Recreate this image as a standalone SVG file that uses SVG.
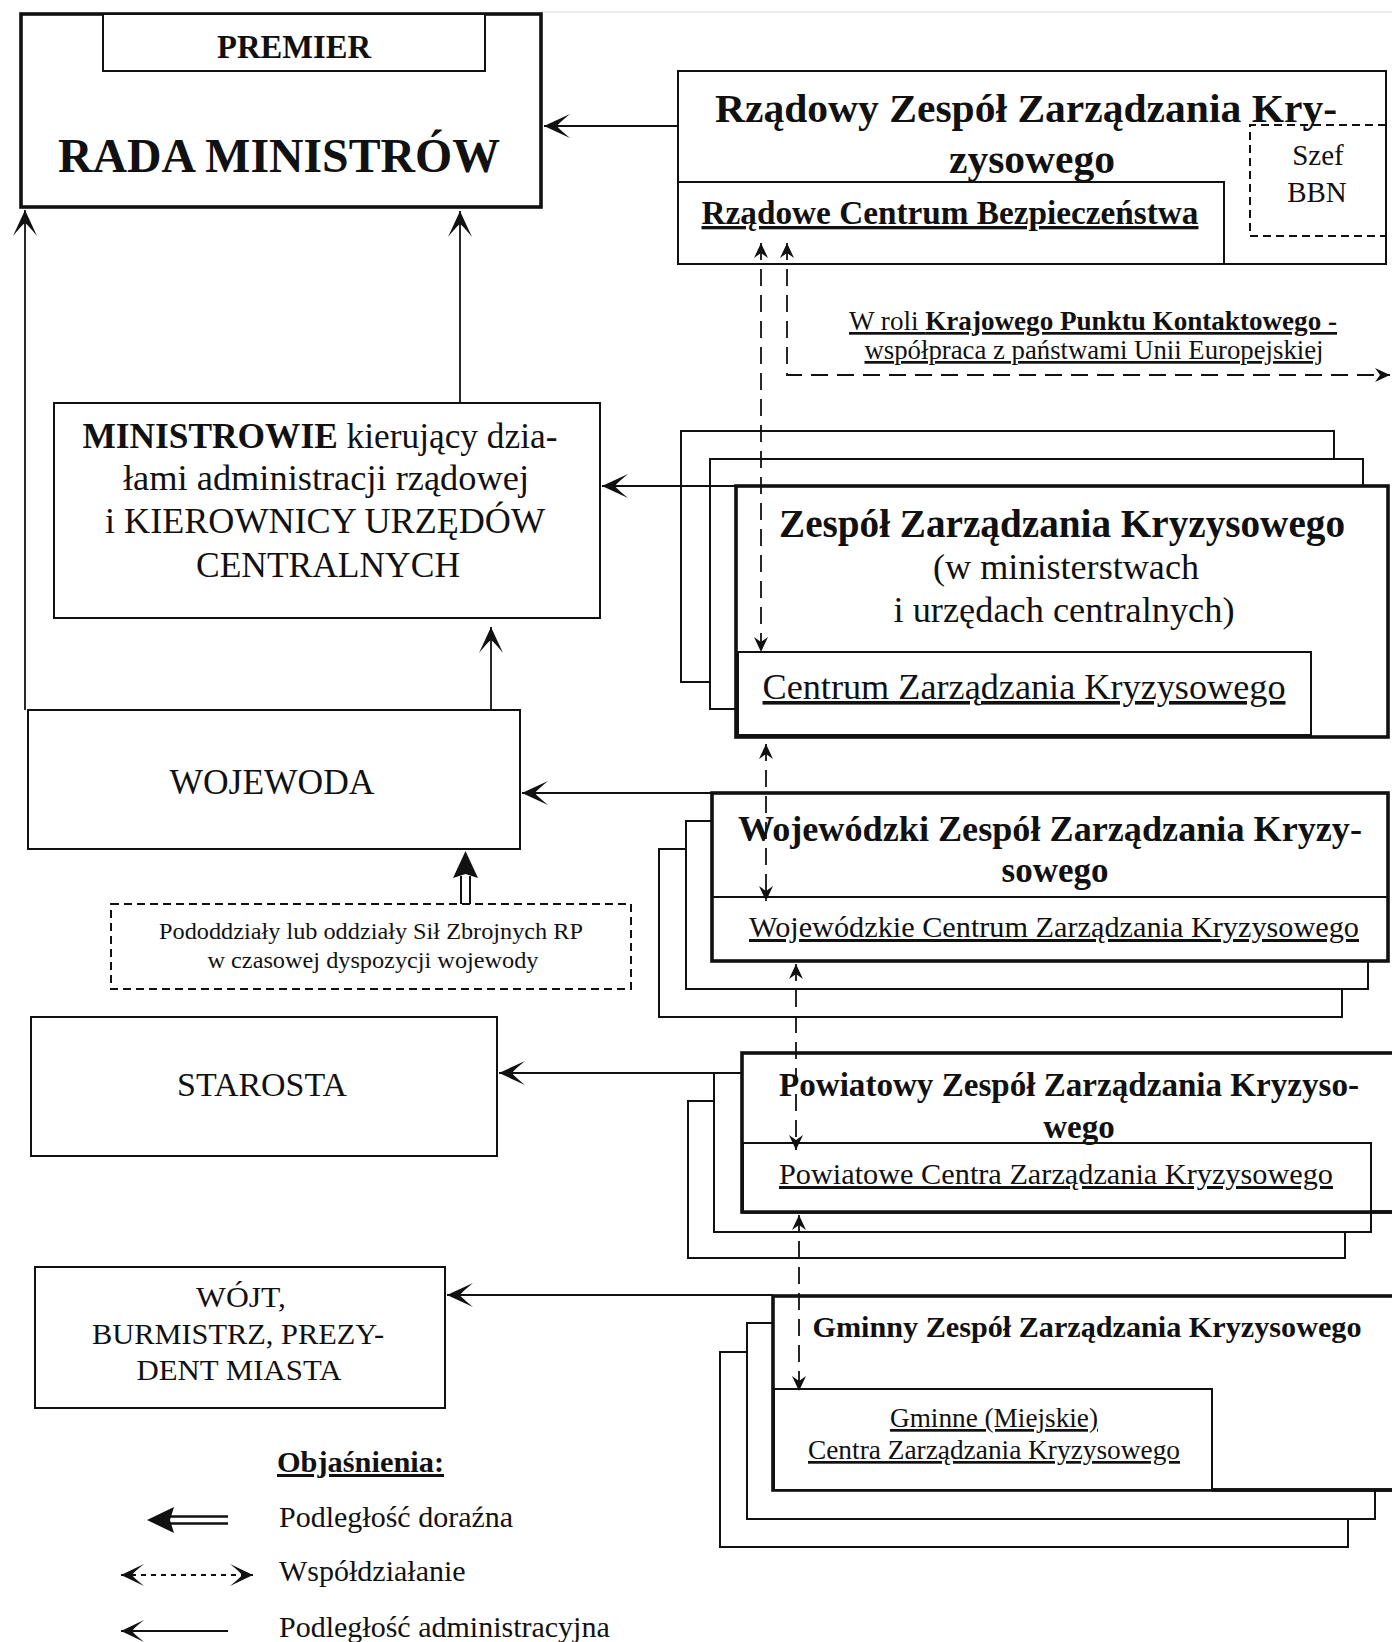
<svg xmlns="http://www.w3.org/2000/svg" width="1392" height="1642" viewBox="0 0 1392 1642">
  <defs>
    <style>
      text { font-family: "Liberation Serif", "Times New Roman", serif; fill: #111; }
      .c { text-anchor: middle; }
      .b { font-weight: bold; }
      .u { text-decoration: underline; }
      .box { fill: #fff; stroke: #111; stroke-width: 2; }
      .thick { fill: #fff; stroke: #111; stroke-width: 3.6; }
      .dbox { fill: none; stroke: #111; stroke-width: 2; stroke-dasharray: 8 5; }
      .ln { fill: none; stroke: #111; stroke-width: 1.8; }
      .dl { fill: none; stroke: #111; stroke-width: 1.8; stroke-dasharray: 17 9; }
      .dleg { fill: none; stroke: #111; stroke-width: 2; stroke-dasharray: 5 5; }
    </style>
    <!-- barbed arrowhead for administrative subordination -->
    <marker id="arr" viewBox="-28 -14 30 28" refX="0" refY="0" markerWidth="30" markerHeight="28" markerUnits="userSpaceOnUse" orient="auto">
      <path d="M0,0 L-26,-12 Q-15,-3 -13,0 Q-15,3 -26,12 Z" fill="#111"/>
    </marker>
    <!-- small head for cooperation (dashed) links -->
    <marker id="arrS" viewBox="-17 -9 19 18" refX="0" refY="0" markerWidth="19" markerHeight="18" markerUnits="userSpaceOnUse" orient="auto-start-reverse">
      <path d="M0,0 L-15,-7 L-10,0 L-15,7 Z" fill="#111"/>
    </marker>
    <!-- medium head used in the key -->
    <marker id="arrM" viewBox="-25 -13 27 26" refX="0" refY="0" markerWidth="27" markerHeight="26" markerUnits="userSpaceOnUse" orient="auto-start-reverse">
      <path d="M0,0 L-23,-11 Q-13,-3 -11,0 Q-13,3 -23,11 Z" fill="#111"/>
    </marker>
  </defs>

  <rect x="0" y="0" width="1392" height="1642" fill="#fff"/>
  <line x1="541" y1="12" x2="1392" y2="12" stroke="#e6e6e6" stroke-width="1.5"/>

  <!-- Council of Ministers -->
  <g id="rada-ministrow">
    <rect x="21" y="14" width="520" height="193" class="thick"/>
    <rect x="103" y="14" width="382" height="57" class="box"/>
    <text x="294" y="58" class="c b" font-size="33" textLength="154" lengthAdjust="spacingAndGlyphs">PREMIER</text>
    <text x="279" y="172" class="c b" font-size="48" textLength="442" lengthAdjust="spacingAndGlyphs">RADA MINISTRÓW</text>
  </g>

  <!-- Government crisis team -->
  <g id="rzadowy-zespol">
    <rect x="678" y="71" width="708" height="193" class="box" stroke-width="3"/>
    <rect x="678" y="182" width="546" height="82" class="box"/>
    <path d="M1386,125 H1250 V236 H1386" class="dbox"/>
    <text x="1026" y="122" class="c b" font-size="41" textLength="622" lengthAdjust="spacingAndGlyphs">Rządowy Zespół Zarządzania Kry-</text>
    <text x="1032" y="173" class="c b" font-size="41" textLength="166" lengthAdjust="spacingAndGlyphs">zysowego</text>
    <text x="1318" y="165" class="c" font-size="29">Szef</text>
    <text x="1317" y="202" class="c" font-size="29">BBN</text>
    <text x="950" y="224" class="c b u" font-size="33" textLength="497" lengthAdjust="spacingAndGlyphs">Rządowe Centrum Bezpieczeństwa</text>
  </g>

  <!-- National contact point note -->
  <g id="punkt-kontaktowy">
    <text x="1093" y="330" class="c u" font-size="27" textLength="488" lengthAdjust="spacingAndGlyphs">W roli <tspan class="b">Krajowego Punktu Kontaktowego -</tspan></text>
    <text x="1094" y="359" class="c u" font-size="27" textLength="459" lengthAdjust="spacingAndGlyphs">współpraca z państwami Unii Europejskiej</text>
  </g>

  <!-- Ministers and heads of central offices -->
  <g id="ministrowie">
    <rect x="54" y="403" width="546" height="215" class="box"/>
    <text x="320" y="448" class="c" font-size="36" textLength="475" lengthAdjust="spacingAndGlyphs"><tspan class="b">MINISTROWIE</tspan> kierujący dzia-</text>
    <text x="326" y="490" class="c" font-size="36" textLength="406" lengthAdjust="spacingAndGlyphs">łami administracji rządowej</text>
    <text x="325" y="533" class="c" font-size="36" textLength="440" lengthAdjust="spacingAndGlyphs">i KIEROWNICY URZĘDÓW</text>
    <text x="328" y="577" class="c" font-size="36" textLength="264" lengthAdjust="spacingAndGlyphs">CENTRALNYCH</text>
  </g>

  <!-- Crisis teams in ministries (stacked) -->
  <g id="zespol-ministerialny">
    <rect x="681" y="431" width="653" height="251" class="box"/>
    <rect x="710" y="459" width="653" height="250" class="box"/>
    <rect x="736" y="486" width="652" height="251" class="thick"/>
    <rect x="738" y="652" width="573" height="83" class="box"/>
    <text x="1062" y="537" class="c b" font-size="39" textLength="566" lengthAdjust="spacingAndGlyphs">Zespół Zarządzania Kryzysowego</text>
    <text x="1066" y="579" class="c" font-size="35" textLength="266" lengthAdjust="spacingAndGlyphs">(w ministerstwach</text>
    <text x="1064" y="622" class="c" font-size="35" textLength="341" lengthAdjust="spacingAndGlyphs">i urzędach centralnych)</text>
    <text x="1024" y="699" class="c u" font-size="36" textLength="523" lengthAdjust="spacingAndGlyphs">Centrum Zarządzania Kryzysowego</text>
  </g>

  <!-- Voivode -->
  <g id="wojewoda">
    <rect x="28" y="710" width="492" height="139" class="box"/>
    <text x="272" y="794" class="c" font-size="35" textLength="205" lengthAdjust="spacingAndGlyphs">WOJEWODA</text>
  </g>

  <!-- Armed forces units at the voivode's disposal -->
  <g id="pododdzialy">
    <rect x="111" y="904" width="520" height="85" class="dbox"/>
    <text x="371" y="939" class="c" font-size="24" textLength="424" lengthAdjust="spacingAndGlyphs">Pododdziały lub oddziały Sił Zbrojnych RP</text>
    <text x="373" y="968" class="c" font-size="24" textLength="331" lengthAdjust="spacingAndGlyphs">w czasowej dyspozycji wojewody</text>
  </g>

  <!-- Voivodeship crisis team (stacked) -->
  <g id="wojewodzki-zespol">
    <rect x="659" y="849" width="683" height="168" class="box"/>
    <rect x="686" y="821" width="682" height="168" class="box"/>
    <rect x="712" y="793" width="676" height="168" class="thick"/>
    <line x1="712" y1="897" x2="1388" y2="897" stroke="#111" stroke-width="2"/>
    <text x="1050" y="841" class="c b" font-size="35" textLength="624" lengthAdjust="spacingAndGlyphs">Wojewódzki Zespół Zarządzania Kryzy-</text>
    <text x="1055" y="882" class="c b" font-size="35">sowego</text>
    <text x="1054" y="937" class="c u" font-size="30" textLength="610" lengthAdjust="spacingAndGlyphs">Wojewódzkie Centrum Zarządzania Kryzysowego</text>
  </g>

  <!-- District head -->
  <g id="starosta">
    <rect x="31" y="1017" width="466" height="139" class="box"/>
    <text x="262" y="1096" class="c" font-size="33" textLength="170" lengthAdjust="spacingAndGlyphs">STAROSTA</text>
  </g>

  <!-- District crisis team (stacked) -->
  <g id="powiatowy-zespol">
    <rect x="688" y="1101" width="657" height="157" class="box"/>
    <rect x="714" y="1073" width="657" height="159" class="box"/>
    <rect x="742" y="1053" width="660" height="159" class="thick"/>
    <rect x="743" y="1143" width="628" height="69" class="box"/>
    <line x1="742" y1="1212" x2="1392" y2="1212" stroke="#111" stroke-width="3.6"/>
    <text x="1069" y="1096" class="c b" font-size="33" textLength="580" lengthAdjust="spacingAndGlyphs">Powiatowy Zespół Zarządzania Kryzyso-</text>
    <text x="1079" y="1138" class="c b" font-size="33">wego</text>
    <text x="1056" y="1184" class="c u" font-size="30" textLength="554" lengthAdjust="spacingAndGlyphs">Powiatowe Centra Zarządzania Kryzysowego</text>
  </g>

  <!-- Commune head / mayor -->
  <g id="wojt">
    <rect x="35" y="1267" width="410" height="141" class="box"/>
    <text x="241" y="1307" class="c" font-size="30" textLength="90" lengthAdjust="spacingAndGlyphs">WÓJT,</text>
    <text x="238" y="1344" class="c" font-size="30" textLength="292" lengthAdjust="spacingAndGlyphs">BURMISTRZ, PREZY-</text>
    <text x="239" y="1380" class="c" font-size="30" textLength="205" lengthAdjust="spacingAndGlyphs">DENT MIASTA</text>
  </g>

  <!-- Commune crisis team (stacked) -->
  <g id="gminny-zespol">
    <rect x="720" y="1352" width="628" height="195" class="box"/>
    <rect x="747" y="1323" width="628" height="196" class="box"/>
    <rect x="773" y="1296" width="629" height="194" class="thick"/>
    <rect x="774" y="1389" width="438" height="101" class="box"/>
    <line x1="1212" y1="1490" x2="1392" y2="1490" stroke="#111" stroke-width="3.6"/>
    <text x="1087" y="1337" class="c b" font-size="30" textLength="549" lengthAdjust="spacingAndGlyphs">Gminny Zespół Zarządzania Kryzysowego</text>
    <text x="994" y="1427" class="c u" font-size="27" textLength="208" lengthAdjust="spacingAndGlyphs">Gminne (Miejskie)</text>
    <text x="994" y="1459" class="c u" font-size="27" textLength="372" lengthAdjust="spacingAndGlyphs">Centra Zarządzania Kryzysowego</text>
  </g>

  <!-- Connectors -->
  <g id="connectors">
    <!-- administrative subordination -->
    <line x1="678" y1="126" x2="544" y2="126" class="ln" marker-end="url(#arr)"/>
    <line x1="25" y1="710" x2="25" y2="210" class="ln" marker-end="url(#arr)"/>
    <line x1="460" y1="403" x2="460" y2="211" class="ln" marker-end="url(#arr)"/>
    <line x1="736" y1="486" x2="602" y2="486" class="ln" marker-end="url(#arr)"/>
    <line x1="491" y1="710" x2="491" y2="627" class="ln" marker-end="url(#arr)"/>
    <line x1="712" y1="793" x2="522" y2="793" class="ln" marker-end="url(#arr)"/>
    <line x1="714" y1="1073" x2="499" y2="1073" class="ln" marker-end="url(#arr)"/>
    <line x1="773" y1="1295" x2="447" y2="1295" class="ln" marker-end="url(#arr)"/>

    <!-- temporary subordination (double shaft) -->
    <line x1="461" y1="876" x2="461" y2="904" stroke="#111" stroke-width="2"/>
    <line x1="470" y1="876" x2="470" y2="904" stroke="#111" stroke-width="2"/>
    <path d="M465.5,851 L478,878 L465.5,874 L453,878 Z" fill="#111"/>

    <!-- cooperation (dashed, double-headed) -->
    <line x1="761" y1="243" x2="761" y2="652" class="dl" marker-start="url(#arrS)" marker-end="url(#arrS)"/>
    <path d="M787,243 V375 H1390" class="dl" marker-start="url(#arrS)" marker-end="url(#arrS)"/>
    <line x1="766" y1="744" x2="766" y2="901" class="dl" marker-start="url(#arrS)" marker-end="url(#arrS)"/>
    <line x1="796" y1="964" x2="796" y2="1150" class="dl" marker-start="url(#arrS)" marker-end="url(#arrS)"/>
    <line x1="799" y1="1215" x2="799" y2="1391" class="dl" marker-start="url(#arrS)" marker-end="url(#arrS)"/>
  </g>

  <!-- Key -->
  <g id="objasnienia">
    <text x="277" y="1472" class="b u" font-size="30" textLength="167" lengthAdjust="spacingAndGlyphs">Objaśnienia:</text>
    <line x1="170" y1="1516.5" x2="228" y2="1516.5" stroke="#111" stroke-width="2.4"/>
    <line x1="170" y1="1523.5" x2="228" y2="1523.5" stroke="#111" stroke-width="2.4"/>
    <path d="M147,1520 L174,1507 L170,1520 L174,1533 Z" fill="#111"/>
    <text x="279" y="1527" font-size="30">Podległość doraźna</text>
    <line x1="121" y1="1575" x2="253" y2="1575" class="dleg" marker-start="url(#arrM)" marker-end="url(#arrM)"/>
    <text x="279" y="1581" font-size="30">Współdziałanie</text>
    <line x1="228" y1="1631" x2="121" y2="1631" class="ln" stroke-width="2" marker-end="url(#arrM)"/>
    <text x="279" y="1637" font-size="30">Podległość administracyjna</text>
  </g>
</svg>
